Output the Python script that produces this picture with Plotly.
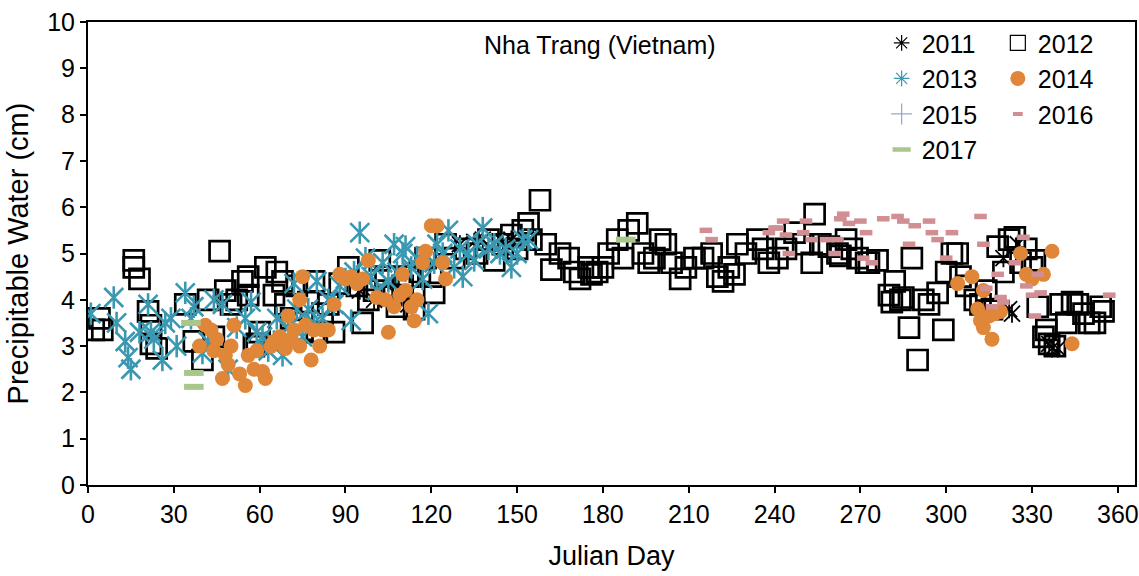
import plotly.graph_objects as go

# ---------------- data (Julian day, precipitable water in cm) ----------------
day_2011 = [95, 100, 108, 112, 130, 135, 138, 142, 145, 148, 320, 322, 323, 325, 336, 337, 339]
pw_2011 = [4.2, 4.0, 4.1, 3.9, 5.2, 5.25, 5.3, 5.2, 5.25, 5.3, 4.9, 3.8, 3.7, 5.2, 3.05, 2.95, 2.95]

day_2012 = [2, 5, 4, 16, 16, 18, 21, 22, 24, 22,
            34, 37, 40, 42, 44, 46, 48, 50, 52, 54, 56, 58, 59, 60,
            62, 65, 66, 68, 69, 71, 73, 75, 77, 79, 80, 82, 84, 86, 88, 56,
            91, 94, 96, 98, 100, 102, 104, 106, 108, 110, 112, 114, 116, 118, 120,
            121, 125, 128, 132, 136, 140, 142, 145, 148, 150,
            152, 154, 155, 158, 160, 162, 165, 168, 170, 172, 175, 176, 178, 180,
            182, 185, 187, 189, 192, 194, 196, 198, 200, 202, 204, 207, 209,
            212, 215, 218, 220, 222, 224, 226, 227, 230, 234, 236, 238, 241,
            244, 247, 250, 253, 254, 256, 259, 262, 263, 265, 267, 269, 272,
            273, 276, 280, 281, 282, 284, 285, 287, 288, 290, 292, 294, 297, 299, 300,
            302, 304, 305, 307, 310, 312, 314, 316, 318, 320, 322, 324, 326, 328, 330,
            331, 332, 334, 335, 336, 338, 340, 342, 344, 346, 348, 350, 352, 354, 355]
pw_2012 = [3.35, 3.35, 3.6, 4.85, 4.7, 4.45, 3.75, 3.45, 2.95, 3.05,
           3.9, 3.1, 2.7, 4.0, 3.2, 5.05, 4.2, 3.9, 4.0, 4.4, 4.1, 3.0, 3.05, 3.3,
           4.7, 4.1, 4.6, 4.4, 3.9, 3.6, 4.3, 3.35, 3.95, 4.4, 3.3, 3.7, 3.9, 3.3, 4.35, 4.5,
           4.7, 4.3, 3.5, 4.0, 4.2, 4.85, 4.5, 4.1, 3.85, 4.3, 4.5, 3.8, 4.6, 4.9, 4.5,
           4.15, 5.2, 4.9, 5.1, 5.0, 5.3, 4.85, 5.2, 5.4, 5.1,
           5.5, 5.65, 5.3, 6.15, 5.2, 4.65, 5.0, 4.9, 4.6, 4.45, 4.7, 4.55, 4.6, 4.7,
           5.0, 5.3, 4.9, 5.5, 5.65, 5.0, 4.8, 4.9, 5.3, 5.2, 4.8, 4.45, 4.7,
           4.9, 4.9, 5.0, 4.5, 4.4, 4.7, 4.55, 5.2, 5.0, 5.3, 5.1, 4.8, 4.9,
           5.1, 5.45, 5.2, 4.8, 5.85, 5.2, 5.15, 5.0, 4.95, 5.3, 5.1, 4.9, 4.8,
           4.8, 4.85, 4.1, 3.95, 4.4, 4.0, 4.05, 3.4, 4.9, 2.7, 4.0, 3.9, 4.15, 3.35, 4.6,
           5.0, 5.0, 4.5, 4.3, 4.0, 3.9, 4.2, 3.8, 5.15, 4.6, 5.3, 5.35, 4.8, 5.1, 4.7,
           4.85, 3.85, 3.2, 3.35, 3.05, 3.0, 3.9, 3.5, 3.95, 3.9, 3.7, 3.5, 3.5, 3.85, 3.75]

day_2013 = [1, 9, 10, 13, 14, 15, 18, 21, 22, 23, 26, 27, 29, 31, 34, 36, 37, 40, 42, 44, 47, 49,
            52, 55, 57, 59, 61, 63, 65, 66, 68, 70, 72, 73, 75, 77, 79, 80, 82, 84, 86, 88, 90,
            92, 93, 95, 97, 99, 101, 103, 105, 107, 108, 110, 111, 113, 115, 117, 118, 119, 121,
            122, 124, 126, 128, 130, 131, 133, 135, 136, 138, 140, 142, 144, 146, 148, 150, 152, 154]
pw_2013 = [3.7, 4.05, 3.5, 3.1, 2.75, 2.5, 3.3, 3.9, 3.3, 3.15, 2.7, 3.5, 3.6, 3.0, 4.15, 3.6, 3.85, 2.85, 3.1, 4.0, 3.9, 2.5,
           3.4, 3.6, 3.95, 3.3, 3.2, 2.9, 3.1, 3.6, 2.8, 3.4, 4.35, 3.8, 3.2, 3.8, 3.5, 4.4, 3.6, 4.0, 3.9, 4.3, 4.45,
           3.55, 4.6, 5.45, 4.9, 4.5, 4.2, 4.8, 4.4, 5.2, 4.6, 5.0, 5.15, 4.7, 4.9, 4.45, 4.95, 3.7, 4.8,
           5.2, 5.0, 5.5, 4.7, 5.1, 4.5, 5.0, 4.85, 5.2, 5.55, 5.1, 5.2, 5.0, 5.1, 4.7, 5.0, 5.3, 5.3]

day_2014 = [39, 41, 43, 44, 45, 47, 48, 49, 50, 51, 53, 55, 56, 58, 59, 61, 62, 64, 65, 67, 68, 69,
            70, 71, 72, 74, 74, 75, 76, 78, 79, 81, 82, 84, 86, 88, 90, 92, 94, 96, 98, 101, 104, 105,
            107, 109, 110, 111, 113, 114, 115, 117, 118, 120, 122, 124, 125,
            304, 309, 311, 312, 313, 313, 315, 316, 317, 319, 326, 328, 330, 334, 337, 344]
pw_2014 = [3.0, 3.45, 3.35, 2.9, 3.15, 2.3, 2.8, 2.6, 3.0, 3.45, 2.4, 2.15, 2.8, 2.5, 2.9, 2.45, 2.3, 3.0, 3.1, 3.2, 3.1, 2.95,
           3.65, 3.15, 3.35, 4.0, 3.0, 4.5, 3.45, 2.7, 3.35, 3.0, 3.35, 3.35, 3.9, 4.55, 4.45, 4.5, 4.35, 4.45, 4.85, 4.05, 4.0, 3.3,
           3.85, 4.1, 4.55, 4.2, 3.85, 3.55, 4.0, 4.8, 5.05, 5.6, 5.6, 4.8, 4.45,
           4.35, 4.5, 3.8, 3.55, 4.2, 3.4, 3.65, 3.15, 3.7, 3.75, 5.0, 4.55, 4.45, 4.55, 5.05, 3.05]

day_2015 = []
pw_2015 = []

day_2016 = [216, 218, 238, 240, 241, 243, 244, 245, 250, 251, 253, 258, 261, 262, 263, 264, 266, 270,
            271, 272, 274, 278, 283, 285, 287, 289, 294, 295, 297, 300, 302, 312, 313, 314, 316, 318,
            319, 320, 324, 327, 328, 330, 331, 332, 333, 357]
pw_2016 = [5.5, 5.3, 5.45, 5.55, 5.55, 5.7, 5.4, 5.0, 5.45, 5.7, 5.3, 5.3, 5.0, 5.3, 5.75, 5.85, 5.65, 5.7,
           4.9, 5.45, 4.8, 5.75, 5.8, 5.7, 5.2, 5.6, 5.7, 5.45, 5.3, 4.9, 5.45, 5.8, 5.2, 4.25, 3.85, 4.55,
           4.05, 3.95, 4.8, 5.35, 4.3, 4.1, 3.65, 4.55, 4.15, 4.1]

day_2017 = [36, 37, 37, 188]
pw_2017 = [3.5, 2.42, 2.12, 5.3]

x_ticks = [0, 30, 60, 90, 120, 150, 180, 210, 240, 270, 300, 330, 360]
y_ticks = [0, 1, 2, 3, 4, 5, 6, 7, 8, 9, 10]

# ---------------- styling ----------------
BLACK = "#000000"
TEAL = "#3A98B1"
ORANGE = "#DF8638"
LBLUE = "#8FA9D6"
PINK = "#D18E93"
GREEN = "#A9C78B"
FONT = "Arial, Liberation Sans, sans-serif"

fig = go.Figure()

def add(days, vals, symbol, size, color, lw, fill=None):
    fig.add_trace(go.Scatter(
        x=days, y=vals, mode="markers", showlegend=False, hoverinfo="skip",
        marker=dict(symbol=symbol, size=size, color=fill if fill else color,
                    line=dict(color=color, width=lw))))

# series in order (later drawn on top)
add(day_2011, pw_2011, "x-thin-open", 16, BLACK, 1.8)
add(day_2011, pw_2011, "line-ns-open", 13, BLACK, 1.8)
add(day_2012, pw_2012, "square-open", 20, BLACK, 2.7)
add(day_2013, pw_2013, "x-thin-open", 19, TEAL, 2.6)
add(day_2013, pw_2013, "line-ns-open", 16, TEAL, 2.6)
fig.add_trace(go.Scatter(x=day_2014, y=pw_2014, mode="markers", showlegend=False, hoverinfo="skip",
                         marker=dict(symbol="circle", size=15, color=ORANGE, line=dict(width=0))))
add(day_2015, pw_2015, "cross-thin-open", 14, LBLUE, 1.5)
add(day_2016, pw_2016, "line-ew-open", 9, PINK, 5.5)
add(day_2017, pw_2017, "line-ew-open", 14, GREEN, 6)

# legend entries
def leg(name, legend, symbol, size, color, lw, fill=None):
    fig.add_trace(go.Scatter(
        x=[None], y=[None], mode="markers", name=name, legend=legend,
        marker=dict(symbol=symbol, size=size, color=fill if fill else color,
                    line=dict(color=color, width=lw))))

leg("2011", "legend", "asterisk-open", 13, BLACK, 1.2)
leg("2013", "legend", "asterisk-open", 13, TEAL, 1.2)
leg("2015", "legend", "cross-thin-open", 15, LBLUE, 1.2)
leg("2017", "legend", "line-ew-open", 13, GREEN, 4.5)
leg("2012", "legend2", "square-open", 15, BLACK, 1.2)
leg("2014", "legend2", "circle", 15, ORANGE, 0, fill=ORANGE)
leg("2016", "legend2", "line-ew-open", 7, PINK, 4)

legend_common = dict(font=dict(family=FONT, size=25, color="black"), bgcolor="rgba(0,0,0,0)",
                     itemwidth=30, tracegroupgap=0, xanchor="left", yanchor="top",
                     orientation="v", itemclick=False)

fig.update_layout(
    width=1139, height=576,
    margin=dict(l=88, r=4, t=22, b=91),
    paper_bgcolor="white", plot_bgcolor="white",
    font=dict(family=FONT, size=25, color="black"),
    showlegend=True,
    legend=dict(x=0.758, y=1.004, **legend_common),
    legend2=dict(x=0.869, y=1.004, **legend_common),
    xaxis=dict(range=[0, 366], tickmode="array", tickvals=x_ticks, ticktext=[str(v) for v in x_ticks],
               showgrid=False, zeroline=False, showline=True, linecolor="black", linewidth=2,
               mirror=True, ticks="outside", ticklen=6, tickwidth=1.5, tickcolor="black",
               automargin=False,
               tickfont=dict(size=25), title=dict(text="Julian Day", font=dict(size=27), standoff=19)),
    yaxis=dict(range=[0, 10], tickmode="array", tickvals=y_ticks, ticktext=[str(v) for v in y_ticks],
               showgrid=False, zeroline=False, showline=True, linecolor="black", linewidth=2,
               mirror=True, ticks="outside", ticklen=6, tickwidth=1.5, tickcolor="black",
               automargin=False,
               tickfont=dict(size=25), title=dict(text="Precipitable Water (cm)", font=dict(size=29), standoff=10)),
    annotations=[dict(text="Nha Trang (Vietnam)", xref="paper", yref="paper", x=0.489, y=0.950,
                      xanchor="center", yanchor="middle",
                      showarrow=False, font=dict(family=FONT, size=25, color="black"))],
)

fig.write_html("out.html", config={"displayModeBar": False},
               post_script="document.body.style.margin='0';document.body.style.overflow='hidden';")
